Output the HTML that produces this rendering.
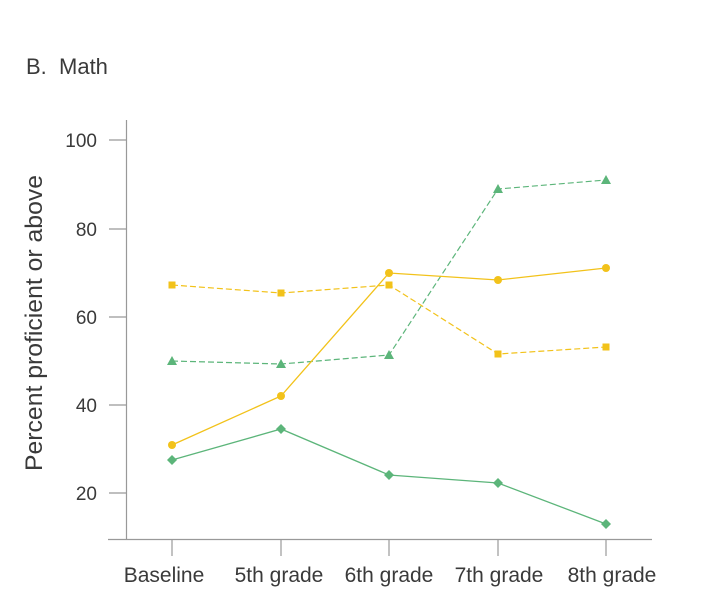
<!DOCTYPE html>
<html><head><style>
body{margin:0;background:#fff;}
svg text{font-family:"Liberation Sans","DejaVu Sans",sans-serif;fill:#3a3a3a;}
</style></head><body>
<svg width="717" height="606" viewBox="0 0 717 606" xmlns="http://www.w3.org/2000/svg">
<text x="26" y="74" font-size="22" xml:space="preserve">B.  Math</text>
<g stroke="#999" stroke-width="1.2">
<line x1="126.5" y1="120" x2="126.5" y2="540"/>
<line x1="108" y1="539.5" x2="652" y2="539.5"/>
<line x1="109" y1="140" x2="126" y2="140"/>
<line x1="109" y1="229" x2="126" y2="229"/>
<line x1="109" y1="317" x2="126" y2="317"/>
<line x1="109" y1="405" x2="126" y2="405"/>
<line x1="109" y1="493" x2="126" y2="493"/>
<line x1="172" y1="540" x2="172" y2="556"/>
<line x1="281" y1="540" x2="281" y2="556"/>
<line x1="389" y1="540" x2="389" y2="556"/>
<line x1="498" y1="540" x2="498" y2="556"/>
<line x1="606" y1="540" x2="606" y2="556"/>
</g>
<g font-size="19" text-anchor="end">
<text x="97" y="147">100</text>
<text x="97" y="236">80</text>
<text x="97" y="324">60</text>
<text x="97" y="412">40</text>
<text x="97" y="500">20</text>
</g>
<g font-size="21" text-anchor="middle">
<text x="164" y="582">Baseline</text>
<text x="279" y="582">5th grade</text>
<text x="389" y="582">6th grade</text>
<text x="499" y="582">7th grade</text>
<text x="612" y="582">8th grade</text>
</g>
<text transform="translate(42,323) rotate(-90)" font-size="24" text-anchor="middle" textLength="296" lengthAdjust="spacingAndGlyphs">Percent proficient or above</text>
<polyline fill="none" stroke="#5cb57a" stroke-width="1.2" stroke-dasharray="6,3" points="172,361 281,364 389,355 498,189 606,180"/>
<g fill="#5cb57a">
<polygon points="172,356 177,365 167,365"/><polygon points="281,359 286,368 276,368"/><polygon points="389,350 394,359 384,359"/><polygon points="498,184 503,193 493,193"/><polygon points="606,175 611,184 601,184"/>
</g>
<polyline fill="none" stroke="#f2c21a" stroke-width="1.2" stroke-dasharray="6,3" points="172,285 281,293 389,285 498,354 606,347"/>
<g fill="#f2c21a">
<rect x="168.5" y="281.5" width="7" height="7"/><rect x="277.5" y="289.5" width="7" height="7"/><rect x="385.5" y="281.5" width="7" height="7"/><rect x="494.5" y="350.5" width="7" height="7"/><rect x="602.5" y="343.5" width="7" height="7"/>
</g>
<polyline fill="none" stroke="#f2c21a" stroke-width="1.3" points="172,445 281,396 389,273 498,280 606,268"/>
<g fill="#f2c21a">
<circle cx="172" cy="445" r="4"/><circle cx="281" cy="396" r="4"/><circle cx="389" cy="273" r="4"/><circle cx="498" cy="280" r="4"/><circle cx="606" cy="268" r="4"/>
</g>
<polyline fill="none" stroke="#5cb57a" stroke-width="1.3" points="172,460 281,429 389,475 498,483 606,524"/>
<g fill="#5cb57a">
<polygon points="172,455 177,460 172,465 167,460"/><polygon points="281,424 286,429 281,434 276,429"/><polygon points="389,470 394,475 389,480 384,475"/><polygon points="498,478 503,483 498,488 493,483"/><polygon points="606,519 611,524 606,529 601,524"/>
</g>
</svg>
</body></html>
